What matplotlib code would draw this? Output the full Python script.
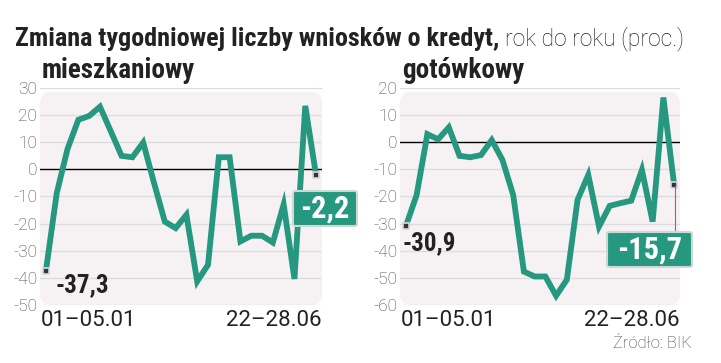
import matplotlib
matplotlib.use("Agg")
import matplotlib.pyplot as plt
from matplotlib import font_manager
from matplotlib.patches import FancyBboxPatch

# weekly y/y change of credit applications, 26 weeks (01-05.01 ... 22-28.06)
weeks = list(range(26))
mieszkaniowy = [-37.3, -8.8, 7.5, 18.2, 19.6, 23.0, 14.0, 4.9, 4.4, 9.8, -5.0, -19.3, -21.7,
                -16.8, -41.3, -35.2, 4.4, 4.4, -26.6, -24.5, -24.5, -27.0, -13.0, -40.4, 23.3, -2.2]
gotowkowy = [-30.9, -19.5, 2.9, 1.0, 5.4, -5.1, -5.6, -4.8, 0.7, -6.6, -19.5, -47.7, -49.5,
             -49.5, -56.6, -50.7, -21.3, -12.1, -31.1, -23.5, -22.5, -21.6, -10.3, -29.3, 16.4, -15.7]
first_label = "01–05.01"
last_label = "22–28.06"
first_txt = ["-37,3", "-30,9"]
last_txt = ["-2,2", "-15,7"]

GREEN = "#26987f"

# pick a condensed face if one is around
fonts = font_manager.fontManager.ttflist
names = {f.name for f in fonts}
cond = {"family": ["DejaVu Sans"], "stretch": "normal"}
for nm in ["Roboto Condensed", "Liberation Sans Narrow", "Open Sans Condensed"]:
    if nm in names:
        cond = {"family": [nm, "DejaVu Sans"], "stretch": "normal"}
        break
else:
    if any(f.name == "DejaVu Sans" and f.stretch == "condensed" for f in fonts):
        cond = {"family": ["DejaVu Sans"], "stretch": "condensed"}
LIGHT = ["Roboto", "DejaVu Sans"]

fig = plt.figure(figsize=(7.21, 3.63), dpi=100)
r = fig.canvas.get_renderer()

t1 = fig.text(15/721, 1 - 39/363, "Zmiana tygodniowej liczby wniosków o kredyt,", **cond,
              weight="bold", fontsize=18.8, color="#222222", va="center", ha="left")
ext = t1.get_window_extent(r)
fig.text((ext.x1 + 6)/721, 1 - 39/363, "rok do roku (proc.)", family=LIGHT, weight="light",
         fontsize=16.5, color="#222222", va="center", ha="left")
fig.text(692/721, 1 - 343/363, "Źródło: BIK", family=LIGHT, weight="light", fontsize=12,
         color="#444444", ha="right", va="center")


def panel(left_px, width_px, data, ylim, yticks, subtitle, t0, t1, box_xy, box_wh, box_line):
    ax = fig.add_axes([left_px/721, (363-305)/363, width_px/721, 217.3/363])
    ax.set_xlim(-0.55, 25.55)
    ax.set_ylim(*ylim)
    for s in ax.spines.values():
        s.set_visible(False)
    ax.set_facecolor("none")
    bg = FancyBboxPatch((0.0, 0.0), 1.0, 0.98, boxstyle="round,pad=0,rounding_size=0.04",
                        transform=ax.transAxes, facecolor="#f6f1f3", edgecolor="none",
                        zorder=0, mutation_aspect=282/217)
    ax.add_patch(bg)
    for t in yticks:
        ax.axhline(t, color="black" if t == 0 else "#dcdcdc", lw=1.0 if t == 0 else 0.9, zorder=1)
    ax.set_yticks(yticks)
    ax.set_yticklabels([str(t) for t in yticks], family=LIGHT, weight="light",
                       fontsize=12.5, color="#444444")
    ax.tick_params(axis="y", length=0, pad=2)
    ax.set_xticks([])

    ax.plot(weeks, data, color=GREEN, lw=4.2, solid_joinstyle="miter", zorder=3)
    for i in (0, len(data) - 1):
        ax.plot(weeks[i], data[i], marker="s", ms=4.5, mfc="#333344", mec="#d8d8d8",
                mew=1.2, zorder=4)

    fig.text(left_px/721 + 1/721, 1 - 321/363, first_label, family=LIGHT, fontsize=16,
             color="#222222", ha="left", va="center")
    fig.text((left_px + width_px)/721, 1 - 321/363, last_label, family=LIGHT, fontsize=16,
             color="#222222", ha="right", va="center")
    fig.text(left_px/721 + 2/721, 1 - 71/363, subtitle, **cond, weight="bold",
             fontsize=19.5, color="#222222", ha="left", va="center")

    ax.annotate(t0[0], (weeks[0], data[0]), xytext=t0[1], textcoords="offset pixels",
                **cond, weight="bold", fontsize=18, color="#222222",
                ha="left", va="center", zorder=5)

    bx, by = box_xy
    bw, bh = box_wh
    if box_line:
        fig.add_artist(plt.Line2D([box_line[0]/721]*2, [1 - box_line[1]/363, 1 - box_line[2]/363],
                                  color="#777777", lw=0.8))
    box = FancyBboxPatch((bx/721, 1 - (by + bh)/363), bw/721, bh/363,
                         boxstyle="round,pad=0,rounding_size=0.004", transform=fig.transFigure,
                         facecolor=GREEN, edgecolor="#cfd8d4", lw=1.5, zorder=6)
    fig.add_artist(box)
    fig.text((bx + bw/2)/721, 1 - (by + bh/2)/363, t1, **cond, weight="bold",
             fontsize=22, color="white", ha="center", va="center", zorder=7)
    return ax


panel(40, 282, mieszkaniowy, (-50, 30), [30, 20, 10, 0, -10, -20, -30, -40, -50],
      "mieszkaniowy", (first_txt[0], (10, -15)), last_txt[0], (293, 191), (64, 35), None)
panel(400, 280, gotowkowy, (-60, 20), [20, 10, 0, -10, -20, -30, -40, -50, -60],
      "gotówkowy", (first_txt[1], (-3, -17)), last_txt[1], (607, 232), (85, 35),
      (675, 186, 232))

fig.savefig("out.png", dpi=100)
